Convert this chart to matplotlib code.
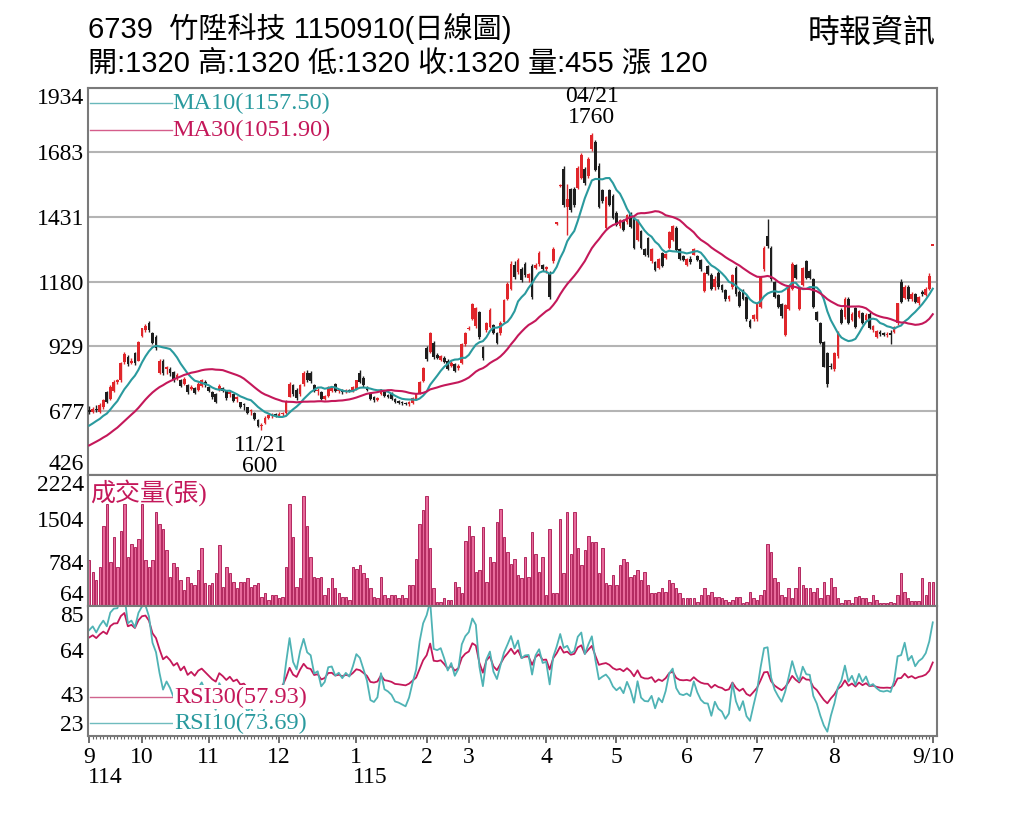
import numpy as np
import pandas as pd
import matplotlib
matplotlib.use("Agg")
import matplotlib.pyplot as plt
import matplotlib.transforms as mtransforms
from matplotlib import font_manager

# 日K資料 (114/09/10 ~ 115/09/10)
opens = [680, 672, 685, 672, 690, 748, 722, 755, 790, 795, 868, 885, 862, 900, 872, 968, 990, 1018, 980, 962,
         825, 872, 840, 838, 826, 802, 798, 782, 778, 762, 765, 758, 772, 790, 768, 748, 740, 756, 765, 752,
         740, 740, 722, 710, 700, 690, 675, 668, 640, 615, 630, 648, 655, 660, 656, 662, 668, 730, 775, 758,
         740, 780, 825, 822, 775, 752, 750, 722, 735, 752, 780, 752, 755, 748, 756, 752, 760, 825, 805, 770,
         745, 728, 720, 740, 752, 738, 742, 722, 712, 710, 705, 702, 708, 722, 745, 792, 922, 905, 940, 895,
         876, 882, 872, 850, 858, 842, 862, 935, 995, 1035, 1005, 1060, 925, 990, 1002, 1010, 980, 978, 1022, 1112,
         1150, 1245, 1218, 1230, 1248, 1195, 1242, 1232, 1248, 1245, 1228, 1212, 1258, 1405, 1552, 1620, 1470, 1540, 1540, 1545,
         1585, 1620, 1590, 1695, 1722, 1632, 1535, 1390, 1535, 1515, 1448, 1395, 1420, 1410, 1448, 1425, 1342, 1378, 1305, 1348,
         1260, 1255, 1232, 1290, 1272, 1312, 1342, 1388, 1308, 1278, 1245, 1268, 1285, 1280, 1265, 1142, 1240, 1205, 1160, 1215,
         1168, 1145, 1112, 1158, 1232, 1140, 1148, 1118, 1028, 1035, 1032, 1082, 1228, 1358, 1312, 1178, 1128, 1092, 972, 1072,
         1150, 1245, 1072, 1168, 1258, 1222, 1190, 1060, 1018, 945, 900, 850, 838, 888, 1068, 1040, 1112, 1030, 1075, 1042,
         1058, 1030, 1055, 990, 962, 985, 978, 972, 978, 985, 1018, 1180, 1115, 1160, 1110, 1130, 1095, 1140, 1128, 1150,
         1320]
highs = [695, 690, 700, 705, 722, 755, 775, 795, 800, 868, 905, 895, 880, 905, 950, 1000, 1015, 1028, 985, 970,
         878, 878, 852, 845, 830, 822, 802, 808, 780, 775, 768, 788, 802, 795, 772, 752, 745, 780, 768, 756,
         755, 742, 735, 712, 705, 692, 682, 670, 645, 628, 655, 665, 668, 668, 670, 672, 720, 788, 780, 765,
         782, 830, 835, 830, 780, 765, 752, 738, 772, 772, 785, 762, 760, 762, 762, 772, 798, 835, 810, 772,
         748, 732, 730, 762, 756, 742, 748, 726, 720, 714, 712, 714, 728, 742, 792, 845, 930, 985, 948, 902,
         892, 888, 878, 872, 862, 858, 942, 982, 1005, 1098, 1082, 1065, 930, 1022, 1075, 1015, 985, 1025, 1112, 1178,
         1258, 1258, 1272, 1235, 1255, 1215, 1248, 1252, 1298, 1250, 1240, 1220, 1315, 1412, 1560, 1630, 1560, 1545, 1548, 1630,
         1680, 1625, 1665, 1760, 1730, 1640, 1542, 1515, 1540, 1520, 1455, 1425, 1425, 1442, 1452, 1430, 1425, 1382, 1312, 1352,
         1312, 1260, 1272, 1295, 1292, 1378, 1402, 1395, 1312, 1282, 1272, 1278, 1312, 1285, 1268, 1218, 1245, 1212, 1200, 1222,
         1172, 1150, 1128, 1210, 1240, 1145, 1152, 1122, 1035, 1052, 1102, 1200, 1318, 1422, 1318, 1182, 1132, 1098, 1092, 1162,
         1255, 1250, 1155, 1238, 1265, 1228, 1195, 1065, 1022, 950, 905, 862, 905, 988, 1075, 1118, 1118, 1062, 1082, 1070,
         1062, 1058, 1060, 1012, 992, 990, 982, 982, 990, 1005, 1098, 1190, 1165, 1165, 1138, 1135, 1125, 1145, 1158, 1215,
         1320]
lows = [665, 668, 670, 668, 685, 705, 718, 748, 780, 790, 858, 850, 860, 855, 870, 965, 985, 985, 935, 915,
        818, 815, 818, 812, 790, 798, 768, 778, 742, 758, 742, 755, 768, 768, 748, 722, 706, 752, 748, 720,
        730, 712, 712, 688, 680, 662, 660, 642, 612, 600, 625, 645, 650, 652, 652, 655, 665, 728, 735, 720,
        735, 772, 790, 785, 748, 738, 718, 718, 730, 748, 748, 745, 742, 745, 748, 750, 756, 785, 770, 752,
        718, 712, 715, 738, 728, 725, 718, 705, 702, 698, 698, 696, 704, 718, 742, 788, 870, 900, 878, 878,
        872, 862, 835, 845, 828, 835, 858, 928, 990, 1030, 1000, 955, 875, 985, 998, 975, 938, 972, 1018, 1108,
        1145, 1190, 1210, 1178, 1198, 1180, 1112, 1228, 1242, 1222, 1215, 1112, 1252, 1400, 1550, 1470, 1360, 1450, 1470, 1540,
        1580, 1555, 1585, 1688, 1610, 1465, 1485, 1385, 1475, 1422, 1398, 1388, 1378, 1405, 1388, 1305, 1338, 1305, 1278, 1275,
        1252, 1220, 1228, 1238, 1268, 1308, 1338, 1298, 1262, 1258, 1240, 1250, 1282, 1258, 1222, 1138, 1205, 1148, 1148, 1152,
        1138, 1105, 1105, 1152, 1125, 1080, 1108, 1028, 998, 1028, 1028, 1078, 1222, 1310, 1182, 1115, 1075, 1038, 968, 1068,
        1145, 1188, 1068, 1162, 1188, 1188, 1075, 1025, 935, 845, 768, 838, 832, 882, 1015, 1035, 1015, 1025, 998, 1038,
        1015, 1025, 995, 985, 958, 968, 968, 965, 938, 980, 1012, 1095, 1110, 1105, 1105, 1095, 1090, 1125, 1122, 1145,
        1320]
closes = [672, 685, 678, 700, 718, 712, 768, 790, 792, 862, 898, 858, 872, 862, 944, 998, 1008, 990, 942, 922,
          872, 822, 845, 825, 795, 815, 772, 800, 748, 770, 745, 782, 798, 775, 752, 728, 712, 772, 752, 725,
          748, 716, 728, 692, 698, 668, 676, 645, 618, 620, 650, 660, 662, 658, 665, 668, 715, 782, 740, 725,
          778, 825, 798, 792, 752, 758, 722, 732, 768, 770, 752, 758, 748, 758, 752, 770, 795, 790, 775, 758,
          722, 718, 724, 760, 732, 728, 722, 710, 708, 705, 702, 710, 725, 740, 788, 842, 878, 978, 885, 882,
          890, 868, 840, 862, 832, 850, 938, 978, 1000, 1092, 1078, 962, 882, 1018, 1070, 980, 942, 1020, 1108, 1172,
          1250, 1198, 1265, 1185, 1205, 1208, 1120, 1245, 1292, 1228, 1235, 1118, 1308, 1408, 1556, 1478, 1500, 1460, 1478, 1622,
          1672, 1562, 1658, 1752, 1615, 1470, 1492, 1508, 1480, 1428, 1402, 1418, 1382, 1438, 1392, 1312, 1420, 1310, 1285, 1282,
          1306, 1225, 1268, 1242, 1288, 1372, 1398, 1302, 1268, 1262, 1268, 1256, 1308, 1262, 1228, 1212, 1210, 1152, 1190, 1158,
          1145, 1110, 1122, 1205, 1130, 1085, 1112, 1032, 1002, 1048, 1098, 1195, 1312, 1318, 1188, 1120, 1080, 1045, 1088, 1158,
          1250, 1192, 1150, 1232, 1195, 1192, 1080, 1030, 940, 848, 780, 845, 900, 982, 1020, 1112, 1020, 1055, 1002, 1065,
          1020, 1050, 1000, 1008, 988, 975, 972, 975, 970, 1002, 1095, 1100, 1160, 1110, 1130, 1100, 1120, 1130, 1150, 1200,
          1320]
volumes = [817, 625, 489, 707, 1389, 1749, 789, 1198, 700, 1307, 1749, 870, 1094, 1034, 1176, 1749, 817, 707, 817, 1607,
           1420, 1340, 980, 543, 768, 707, 489, 325, 543, 440, 407, 653, 1013, 440, 407, 440, 604, 1062, 380, 707,
           604, 462, 358, 462, 462, 522, 380, 407, 440, 216, 271, 162, 244, 244, 189, 216, 707, 1749, 1198, 380,
           522, 1880, 1389, 870, 543, 522, 543, 244, 358, 522, 358, 271, 216, 216, 162, 707, 680, 735, 604, 522,
           358, 216, 189, 543, 244, 189, 244, 244, 189, 244, 189, 407, 407, 843, 1420, 1640, 1880, 1013, 358, 135,
           135, 189, 162, 162, 462, 380, 271, 1143, 1389, 1225, 625, 653, 1362, 462, 870, 789, 1445, 1662, 1198, 953,
           750, 843, 571, 522, 870, 543, 1280, 925, 625, 870, 244, 1334, 271, 271, 1498, 604, 1607, 925, 1607, 1013,
           735, 980, 1225, 1116, 1116, 604, 1013, 440, 407, 571, 407, 735, 843, 789, 543, 571, 653, 489, 625, 407,
           271, 271, 298, 358, 298, 489, 440, 358, 271, 189, 189, 189, 189, 135, 244, 358, 244, 298, 216, 216,
           189, 162, 135, 162, 216, 216, 107, 135, 298, 189, 162, 244, 325, 1089, 953, 522, 462, 244, 216, 358,
           189, 358, 707, 407, 358, 358, 298, 358, 189, 462, 244, 522, 380, 189, 107, 162, 162, 107, 216, 230,
           189, 189, 135, 244, 162, 107, 107, 107, 135, 120, 244, 604, 298, 189, 150, 150, 150, 522, 244, 462,
           455]
# 圖左側之前的收盤 (均線與RSI起算用)
pre_closes = [470, 455, 475, 460, 480, 465, 470, 490, 478, 500, 485, 505, 495, 520, 508, 530, 560, 545, 590, 575,
              600, 585, 615, 600, 625, 610, 618, 635, 625]

month_idx = [0, 15, 34, 54, 76, 96, 108, 130, 150, 170, 190, 212, 240]
month_labels = ["9", "10", "11", "12", "1", "2", "3", "4", "5", "6", "7", "8", "9/10"]
price_ticks = [426, 677, 929, 1180, 1431, 1683, 1934]
vol_ticks = [64, 784, 1504, 2224]
rsi_ticks = [23, 43, 64, 85]

RED = "#e0262b"
BLACK = "#1e1e1e"
TEAL = "#2a9a9e"
MAG = "#c4185a"
RSI_TEAL = "#4fb3b5"
GRID = "#b4b4b4"
SPINE = "#7a7a7a"

names = {f.name for f in font_manager.fontManager.ttflist}
narrow = "Liberation Sans Narrow" if "Liberation Sans Narrow" in names else "Liberation Sans"
SERIF = ["Liberation Serif", "Noto Sans CJK TC"]
TITLE = [narrow, "Noto Sans CJK TC"]
plt.rcParams["font.family"] = SERIF

o = np.array(opens, float)
h = np.array(highs, float)
l = np.array(lows, float)
c = np.array(closes, float)
v = np.array(volumes, float)
x = np.arange(len(c))
n_pre = len(pre_closes)
allc = pd.Series(pre_closes + closes, dtype=float)
ma10 = allc.rolling(10).mean().values[n_pre:]
ma30 = allc.rolling(30).mean().values[n_pre:]


def rsi(n):
    d = allc.diff().fillna(0)
    up = d.clip(lower=0).ewm(alpha=1.0 / n).mean()
    dn = (-d).clip(lower=0).ewm(alpha=1.0 / n).mean()
    return (100 * up / (up + dn)).values[n_pre:]


rsi10 = rsi(10)
rsi30 = rsi(30)

W, H = 1024, 819
fig = plt.figure(figsize=(W / 100, H / 100), dpi=100)
L, R = 88 / W, 937 / W


def frac(y0, y1):
    return [L, 1 - y1 / H, R - L, (y1 - y0) / H]


ax = fig.add_axes(frac(88, 475))
axv = fig.add_axes(frac(475, 606))
axr = fig.add_axes(frac(606, 736))
xlim = (-0.35, 241.2)

for a in (ax, axv, axr):
    a.set_xlim(*xlim)
    for s in a.spines.values():
        s.set_color(SPINE)
        s.set_linewidth(1.5)
    a.tick_params(axis="y", length=0, labelsize=17, pad=3)

# 價格
up = c >= o
col = np.where(up, RED, BLACK)
ax.vlines(x, l, h, colors=col, lw=1.0, zorder=3)
ax.bar(x, np.maximum(np.abs(c - o), 5), bottom=np.minimum(o, c), width=0.78,
       color=col, lw=0, zorder=3)
ax.plot(x, ma10, color=TEAL, lw=1.5, zorder=4)
ax.plot(x, ma30, color=MAG, lw=1.5, zorder=4)
ax.set_ylim(price_ticks[0], price_ticks[-1])
ax.set_yticks(price_ticks)
ax.set_yticklabels([str(t) for t in price_ticks])
ax.grid(axis="y", color=GRID, lw=1.5)
ax.set_axisbelow(True)
ax.set_xticks([])
tl = ax.get_yticklabels()
tl[0].set_va("bottom")
tl[-1].set_va("top")

ax.plot([0.002, 0.099], [0.961, 0.961], transform=ax.transAxes, color=TEAL, lw=1, alpha=0.7)
ax.plot([0.002, 0.099], [0.891, 0.891], transform=ax.transAxes, color=MAG, lw=1, alpha=0.7)
ax.text(0.099, 0.961, "MA10(1157.50)", transform=ax.transAxes, color=TEAL, fontsize=17.5, va="center")
ax.text(0.099, 0.891, "MA30(1051.90)", transform=ax.transAxes, color=MAG, fontsize=17.5, va="center")

ih = int(np.argmax(h))
ax.annotate("04/21\n1760", xy=(ih, h[ih]), xytext=(0, 3), textcoords="offset points",
            ha="center", va="bottom", fontsize=17, linespacing=1.05, annotation_clip=False)
il = int(np.argmin(l))
ax.annotate("11/21\n600", xy=(il, l[il]), xytext=(-1, -3), textcoords="offset points",
            ha="center", va="top", fontsize=17, linespacing=1.05, annotation_clip=False)

# 成交量
axv.bar(x, v, width=0.7, color="#e86a9b", edgecolor="#a8124e", lw=0.6)
axv.set_ylim(vol_ticks[0], vol_ticks[-1])
axv.set_yticks(vol_ticks)
axv.set_yticklabels([str(t) for t in vol_ticks])
axv.set_xticks([])
tl = axv.get_yticklabels()
tl[0].set_va("bottom")
tl[-1].set_va("top")
axv.text(0.003, 0.865, "成交量(張)", transform=axv.transAxes, color=MAG, fontsize=18, va="center")

# RSI
axr.plot(x, rsi30, color=MAG, lw=1.3)
axr.plot(x, rsi10, color=RSI_TEAL, lw=1.3)
axr.set_ylim(rsi_ticks[0], rsi_ticks[-1])
axr.set_yticks(rsi_ticks)
axr.set_yticklabels([str(t) for t in rsi_ticks])
tl = axr.get_yticklabels()
tl[0].set_va("bottom")
tl[-1].set_va("top")
axr.plot([0.002, 0.102], [0.30, 0.30], transform=axr.transAxes, color="#d0648e", lw=1)
axr.plot([0.002, 0.102], [0.10, 0.10], transform=axr.transAxes, color="#6fbcbe", lw=1)
bb = dict(facecolor="white", edgecolor="none", pad=1)
axr.text(0.102, 0.30, "RSI30(57.93)", transform=axr.transAxes, color=MAG, fontsize=17.5,
         va="center", bbox=bb, zorder=5)
axr.text(0.102, 0.10, "RSI10(73.69)", transform=axr.transAxes, color=TEAL, fontsize=17.5,
         va="center", bbox=bb, zorder=5)

axr.set_xticks(month_idx)
axr.set_xticklabels(month_labels)
axr.set_xticks(x, minor=True)
axr.tick_params(axis="x", which="major", length=5, width=1.2, color="#555555", labelsize=17, pad=3)
axr.tick_params(axis="x", which="minor", length=2.5, width=0.8, color="#666666")
tr = mtransforms.blended_transform_factory(axr.transData, axr.transAxes)
axr.text(month_idx[0] - 0.4, -0.24, "114", transform=tr, fontsize=17, ha="left", va="top")
axr.text(month_idx[4] - 1.0, -0.24, "115", transform=tr, fontsize=17, ha="left", va="top")

# 標題
fig.text(88 / W, 1 - 28 / H, "6739  竹陞科技 1150910(日線圖)", family=TITLE, fontsize=21, va="center")
fig.text(88 / W, 1 - 64 / H, "開:1320 高:1320 低:1320 收:1320 量:455 漲 120", family=TITLE,
         fontsize=21, va="center")
fig.text(936 / W, 1 - 34 / H, "時報資訊", family=TITLE, fontsize=23, va="center", ha="right")

fig.savefig("out.png", dpi=100)
